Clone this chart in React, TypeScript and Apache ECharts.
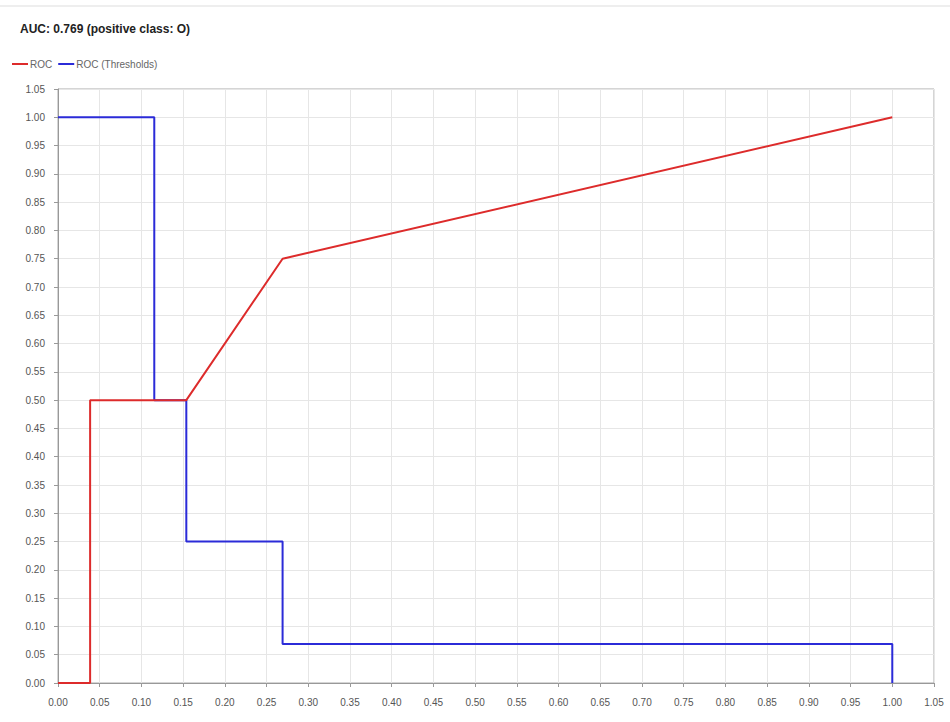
import React, { useEffect, useRef } from "react";
import * as echarts from "echarts";

const titleText = "AUC: 0.769 (positive class: O)";
const seriesNames = ["ROC", "ROC (Thresholds)"];
const rocX = [0, 0.0385, 0.0385, 0.1538, 0.2692, 1.0];
const rocY = [0, 0, 0.5, 0.5, 0.75, 1.0];
const thrX = [0, 0.1154, 0.1154, 0.1538, 0.1538, 0.2692, 0.2692, 1.0, 1.0];
const thrY = [1.0, 1.0, 0.5, 0.5, 0.25, 0.25, 0.069, 0.069, 0];
const axisMin = 0;
const axisMax = 1.05;
const axisStep = 0.05;

export default function App() {
  const ref = useRef<HTMLDivElement>(null);
  useEffect(() => {
    if (!ref.current) return;
    const chart = echarts.init(ref.current, undefined, { renderer: "svg" });
    const font = "Liberation Sans, Arial, sans-serif";
    const axisCommon = {
      type: "value" as const,
      min: axisMin,
      max: axisMax,
      interval: axisStep,
      axisLine: { show: true, lineStyle: { color: "#999", width: 1 } },
      axisTick: { show: true, length: 4, lineStyle: { color: "#999" } },
      axisLabel: {
        color: "#555",
        fontSize: 10,
        fontFamily: font,
        formatter: (v: number) => v.toFixed(2),
      },
      splitLine: { show: true, lineStyle: { color: "#e6e6e6", width: 1 } },
    };
    chart.setOption({
      animation: false,
      backgroundColor: "#fff",
      title: {
        text: titleText,
        left: 15,
        top: 18,
        textStyle: { fontSize: 12, fontWeight: "bold", color: "#222", fontFamily: font },
      },
      legend: {
        left: 7,
        top: 54,
        itemGap: 6,
        itemWidth: 16,
        itemHeight: 2,
        icon: "rect",
        textStyle: { fontSize: 10, color: "#666", fontFamily: font, padding: [0, 0, 0, -3] },
        data: seriesNames,
      },
      grid: {
        left: 58,
        right: 16,
        top: 89,
        bottom: 39,
        show: true,
        borderColor: "#aaa",
        borderWidth: 1,
        backgroundColor: "#fff",
      },
      xAxis: { ...axisCommon, offset: 6, axisLabel: { ...axisCommon.axisLabel, margin: 8 } },
      yAxis: { ...axisCommon, offset: 6, axisLabel: { ...axisCommon.axisLabel, margin: 7 } },
      graphic: [
        {
          type: "line",
          shape: { x1: 0, y1: 6, x2: 950, y2: 6 },
          style: { stroke: "#ddd", lineWidth: 1 },
        },
      ],
      series: [
        {
          name: seriesNames[0],
          type: "line",
          showSymbol: false,
          symbol: "none",
          data: rocX.map((x, i) => [x, rocY[i]]),
          lineStyle: { color: "#dd2b2b", width: 2 },
          itemStyle: { color: "#dd2b2b" },
          z: 3,
        },
        {
          name: seriesNames[1],
          type: "line",
          showSymbol: false,
          symbol: "none",
          data: thrX.map((x, i) => [x, thrY[i]]),
          lineStyle: { color: "#2b2bd8", width: 2 },
          itemStyle: { color: "#2b2bd8" },
          z: 2,
        },
      ],
    });
    return () => chart.dispose();
  }, []);
  return <div ref={ref} style={{ width: 950, height: 722, position: "absolute", left: 0, top: 0 }} />;
}
